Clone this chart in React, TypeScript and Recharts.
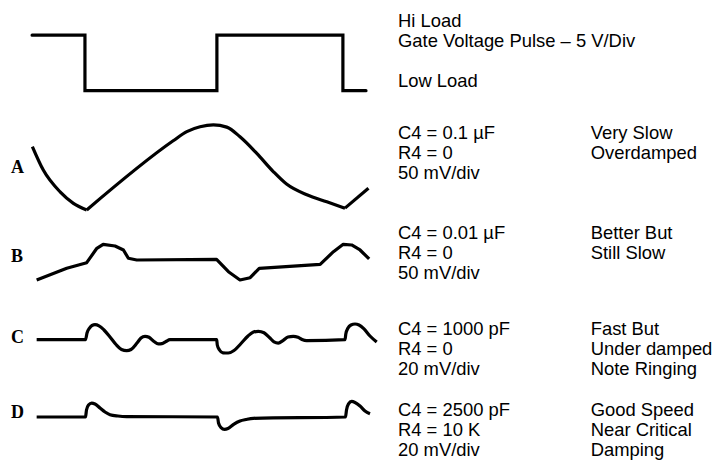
import { LineChart, Line, XAxis, YAxis } from 'recharts';

// time axis is a 0–100 sweep, values in V (gate) or mV (traces)
const GATE = [
  { t: 0.6, v: 15 },
  { t: 15.7, v: 0 },
  { t: 53.4, v: 15 },
  { t: 89.4, v: 0 },
  { t: 96, v: 0 },
];

const TRACE_A = [
  { t: 0.7, v: 171 }, { t: 3.8, v: 108 }, { t: 8.6, v: 49 }, { t: 12.4, v: 18 },
  { t: 16.2, v: 0 }, { t: 40.9, v: 187 }, { t: 44.8, v: 212 }, { t: 48.6, v: 225 },
  { t: 52.4, v: 230 }, { t: 56.2, v: 224 }, { t: 60, v: 198 }, { t: 64.8, v: 153 },
  { t: 69.5, v: 104 }, { t: 73.3, v: 70 }, { t: 79.1, v: 41 }, { t: 84.8, v: 22 },
  { t: 90, v: 5 }, { t: 96.7, v: 59 },
];

const TRACE_B = [
  { t: 1.9, v: 0 }, { t: 10.5, v: 31.6 }, { t: 16.2, v: 46.8 }, { t: 19.1, v: 85.7 },
  { t: 20.9, v: 96.5 }, { t: 24.3, v: 91.9 }, { t: 26.7, v: 81.1 }, { t: 28.1, v: 58.7 },
  { t: 30.5, v: 54.1 }, { t: 53.3, v: 56 }, { t: 56.7, v: 22.4 }, { t: 60, v: 0 },
  { t: 62.9, v: 6.2 }, { t: 65.5, v: 31.6 }, { t: 82.9, v: 42.4 }, { t: 86.7, v: 76.5 },
  { t: 89.5, v: 96.5 }, { t: 91.9, v: 94.6 }, { t: 94.3, v: 81.1 }, { t: 96.9, v: 56.8 },
];

const TRACE_C = [
  { t: 1.9, v: 0 }, { t: 15.86, v: 0 }, { t: 16.29, v: 7.2 }, { t: 17.0, v: 12.6 },
  { t: 17.71, v: 15.4 }, { t: 18.57, v: 16.2 }, { t: 19.71, v: 15.0 }, { t: 21.14, v: 10.5 },
  { t: 22.86, v: 2.9 }, { t: 24.57, v: -5.2 }, { t: 26.14, v: -10.6 }, { t: 27.63, v: -11.9 },
  { t: 28.86, v: -10.6 }, { t: 30.57, v: -3.6 }, { t: 31.71, v: 1.8 }, { t: 32.86, v: 3.7 },
  { t: 34, v: 2.6 }, { t: 35.43, v: -1.9 }, { t: 36.66, v: -4.6 }, { t: 37.71, v: -4.3 },
  { t: 38.86, v: -1.9 }, { t: 40, v: 0 }, { t: 53.34, v: 0 }, { t: 53.51, v: -5.7 },
  { t: 54.14, v: -11.1 }, { t: 55.14, v: -14.2 }, { t: 56.66, v: -14.4 }, { t: 58.29, v: -11.7 },
  { t: 60.29, v: -4.1 }, { t: 62.29, v: 4.0 }, { t: 63.71, v: 8.0 }, { t: 65.23, v: 9.1 },
  { t: 66.86, v: 7.5 }, { t: 68.57, v: 1.8 }, { t: 69.71, v: -2.3 }, { t: 70.94, v: -3.6 },
  { t: 72.29, v: -0.9 }, { t: 73.71, v: 2.9 }, { t: 75.23, v: 3.7 }, { t: 76.57, v: 2.6 },
  { t: 77.71, v: 0.2 }, { t: 79.06, v: -1.1 }, { t: 90, v: 0 }, { t: 90.23, v: 6.2 },
  { t: 90.86, v: 12.6 }, { t: 91.71, v: 15.9 }, { t: 92.86, v: 17.0 }, { t: 94, v: 15.9 },
  { t: 95.43, v: 11.6 }, { t: 97.14, v: 4.0 }, { t: 99.06, v: -2.5 },
];

const TRACE_D = [
  { t: 1.9, v: 0 }, { t: 15.86, v: 0 }, { t: 16.14, v: 7.6 }, { t: 16.71, v: 13.0 },
  { t: 17.63, v: 15.1 }, { t: 18.57, v: 14.1 }, { t: 20, v: 9.7 }, { t: 21.43, v: 5.4 },
  { t: 22.86, v: 2.5 }, { t: 25.14, v: 1.1 }, { t: 27.63, v: 0.5 }, { t: 53.57, v: 0 },
  { t: 53.86, v: -6.5 }, { t: 54.57, v: -11.4 }, { t: 55.57, v: -13.3 }, { t: 56.57, v: -12.4 },
  { t: 58.29, v: -7.6 }, { t: 60, v: -4.3 }, { t: 61.71, v: -2.7 }, { t: 63.8, v: -1.4 },
  { t: 90.14, v: 0 }, { t: 90.43, v: 7.6 }, { t: 91, v: 14.1 }, { t: 91.91, v: 16.8 },
  { t: 92.86, v: 15.7 }, { t: 94.29, v: 11.9 }, { t: 95.71, v: 6.5 }, { t: 97.14, v: 3.6 },
];

const TRACE_LETTERS = ['A', 'B', 'C', 'D'];

const NOTES_LEFT = [
  ['Hi Load', 'Gate Voltage Pulse \u2013 5 V/Div', '', 'Low Load'],
  ['C4 = 0.1 \u00b5F', 'R4 = 0', '50 mV/div'],
  ['C4 = 0.01 \u00b5F', 'R4 = 0', '50 mV/div'],
  ['C4 = 1000 pF', 'R4 = 0', '20 mV/div'],
  ['C4 = 2500 pF', 'R4 = 10 K', '20 mV/div'],
];

const NOTES_RIGHT = [
  [],
  ['Very Slow', 'Overdamped'],
  ['Better But', 'Still Slow'],
  ['Fast But', 'Under damped', 'Note Ringing'],
  ['Good Speed', 'Near Critical', 'Damping'],
];

// layout
const W = 713;
const H = 460;
const PX_PER_DIV = 18.5;
const BASE = { gate: 90.7, A: 210, B: 280, C: 339.7, D: 417 };
const PER_DIV = { gate: 5, A: 50, B: 50, C: 20, D: 20 };
const LETTER_Y = [172.5, 261.5, 343.3, 418.3];
const NOTE_Y = [27, 139.3, 239.3, 335, 416];
const LINE_GAP = 20;

const domainFor = (k: keyof typeof BASE): [number, number] => {
  const u = PER_DIV[k] / PX_PER_DIV;
  return [(BASE[k] - H) * u, BASE[k] * u];
};

const stroke = { stroke: '#000', strokeWidth: 3.2, dot: false, activeDot: false, isAnimationActive: false } as const;

export default function App() {
  return (
    <div style={{ position: 'absolute', left: 0, top: 0, width: W, height: H, background: '#fff' }}>
      <LineChart width={W} height={H} margin={{ top: 0, right: 333, bottom: 0, left: 30 }}>
        <XAxis type="number" dataKey="t" domain={[0, 100]} hide allowDataOverflow />
        {(['gate', 'A', 'B', 'C', 'D'] as const).map((k) => (
          <YAxis key={k} yAxisId={k} type="number" domain={domainFor(k)} hide allowDataOverflow />
        ))}
        <Line data={GATE} yAxisId="gate" dataKey="v" type="stepAfter" {...stroke} strokeLinecap="round" />
        <Line data={TRACE_A.slice(0, 5)} yAxisId="A" dataKey="v" type="monotone" {...stroke} />
        <Line data={TRACE_A.slice(4, 17)} yAxisId="A" dataKey="v" type="monotone" {...stroke} />
        <Line data={TRACE_A.slice(16)} yAxisId="A" dataKey="v" type="linear" {...stroke} />
        <Line data={TRACE_B} yAxisId="B" dataKey="v" type="linear" {...stroke} strokeLinejoin="round" />
        <Line data={TRACE_C} yAxisId="C" dataKey="v" type="monotone" {...stroke} />
        <Line data={TRACE_D} yAxisId="D" dataKey="v" type="monotone" {...stroke} />
      </LineChart>
      <svg width={W} height={H} style={{ position: 'absolute', left: 0, top: 0, pointerEvents: 'none' }}>
        {TRACE_LETTERS.map((l, i) => (
          <text key={l} x={11} y={LETTER_Y[i]} fontFamily="'Liberation Serif', 'Times New Roman', serif"
            fontWeight={700} fontSize={18} fill="#000">{l}</text>
        ))}
        {NOTES_LEFT.map((lines, i) =>
          lines.map((s, j) => (
            <text key={`l${i}-${j}`} x={398} y={NOTE_Y[i] + j * LINE_GAP}
              fontFamily="'Liberation Sans', Arial, sans-serif" fontSize={18.4} fill="#000">{s}</text>
          )))}
        {NOTES_RIGHT.map((lines, i) =>
          lines.map((s, j) => (
            <text key={`r${i}-${j}`} x={590.7} y={NOTE_Y[i] + j * LINE_GAP}
              fontFamily="'Liberation Sans', Arial, sans-serif" fontSize={18.4} fill="#000">{s}</text>
          )))}
      </svg>
    </div>
  );
}
